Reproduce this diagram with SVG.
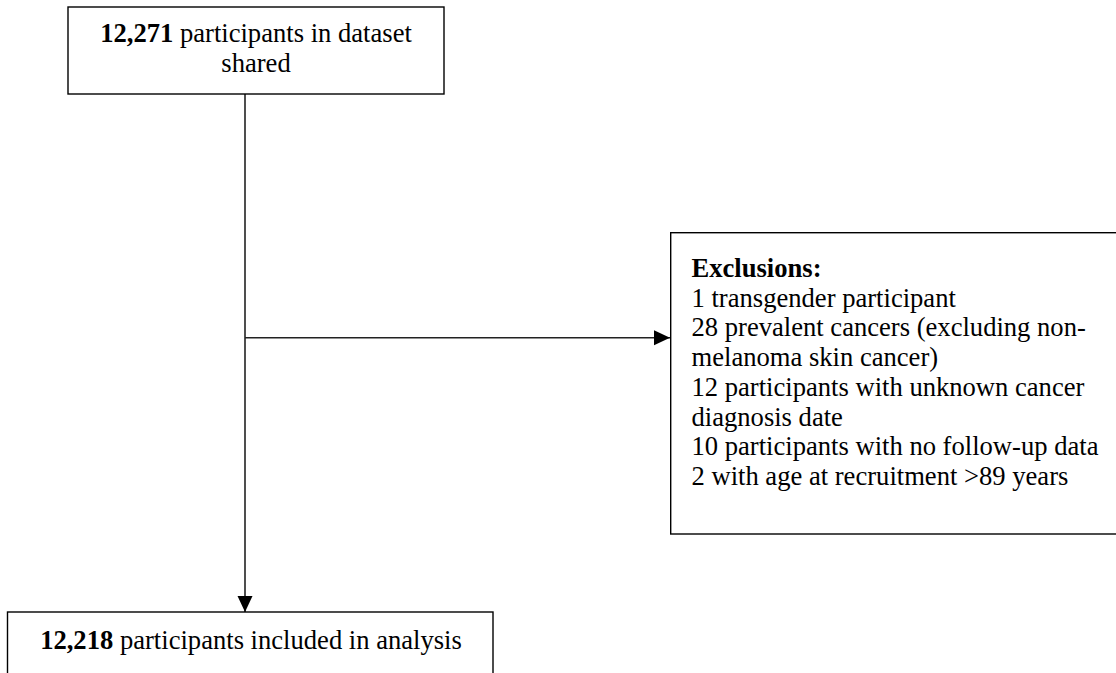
<svg xmlns="http://www.w3.org/2000/svg" width="1116" height="673" viewBox="0 0 1116 673">
  <style>
    .box { fill: #ffffff; stroke: #000000; stroke-width: 1.4; }
    .conn { fill: none; stroke: #222222; stroke-width: 1.6; }
    text { font-family: "Liberation Serif", "Times New Roman", serif; font-size: 26.6px; fill: #000000; }
    .b { font-weight: bold; }
  </style>
  <defs>
    <marker id="arrow" markerUnits="userSpaceOnUse" markerWidth="17" markerHeight="16" refX="16" refY="8" orient="auto">
      <path d="M0,0.5 L16,8 L0,15.5 z" fill="#000000"/>
    </marker>
  </defs>
  <rect width="1116" height="673" fill="#ffffff"/>

  <g id="connectors">
    <line class="conn" x1="245" y1="94" x2="245" y2="612" marker-end="url(#arrow)"/>
    <line class="conn" x1="245" y1="337.7" x2="670" y2="337.7" marker-end="url(#arrow)"/>
  </g>

  <g id="node-dataset">
    <rect class="box" x="68" y="7" width="376" height="87"/>
    <text x="256" y="41.7" text-anchor="middle"><tspan class="b">12,271</tspan> participants in dataset</text>
    <text x="256" y="71.7" text-anchor="middle">shared</text>
  </g>

  <g id="node-exclusions">
    <rect class="box" x="670.7" y="232.7" width="460" height="301.3"/>
    <text x="691.5" y="277" class="b">Exclusions:</text>
    <text x="691.5" y="306.7">1 transgender participant</text>
    <text x="691.5" y="336.4">28 prevalent cancers (excluding non-</text>
    <text x="691.5" y="366.1">melanoma skin cancer)</text>
    <text x="691.5" y="395.8">12 participants with unknown cancer</text>
    <text x="691.5" y="425.5">diagnosis date</text>
    <text x="691.5" y="455.2">10 participants with no follow-up data</text>
    <text x="691.5" y="484.9">2 with age at recruitment &gt;89 years</text>
  </g>

  <g id="node-included">
    <rect class="box" x="7.5" y="612" width="485.5" height="80"/>
    <text x="251" y="649.3" text-anchor="middle"><tspan class="b">12,218</tspan> participants included in analysis</text>
  </g>
</svg>
